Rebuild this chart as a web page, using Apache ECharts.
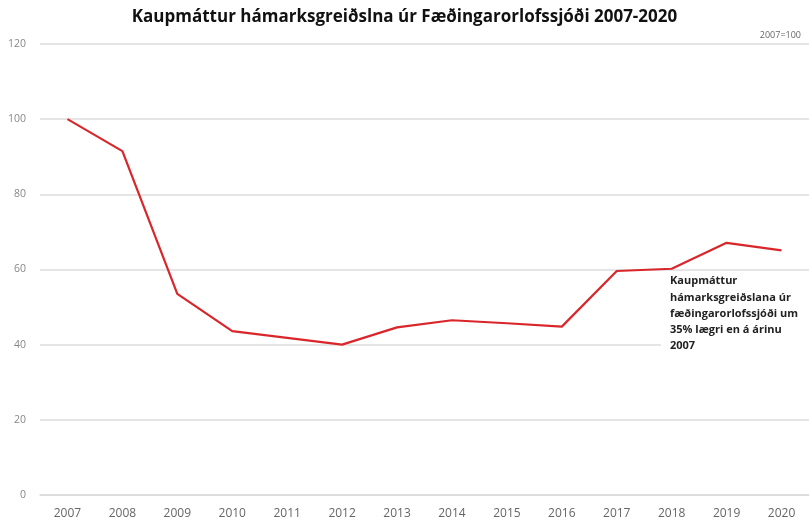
<!DOCTYPE html>
<html><head><meta charset="utf-8">
<script src="https://cdn.jsdelivr.net/npm/echarts@6/dist/echarts.min.js"></script>
<style>html,body{margin:0;padding:0;background:#fff}#c{width:809px;height:522px}</style>
</head><body><div id="c"></div>
<script>
const years = ['2007','2008','2009','2010','2011','2012','2013','2014','2015','2016','2017','2018','2019','2020'];
const values = [100, 91.5, 53.5, 43.6, 41.8, 40.0, 44.6, 46.5, 45.7, 44.8, 59.6, 60.2, 67.1, 65.1];
const yTicks = [0, 20, 40, 60, 80, 100, 120];
const titleText = 'Kaupmáttur hámarksgreiðslna úr Fæðingarorlofssjóði 2007-2020';
const noteText = 'Kaupmáttur\nhámarksgreiðslana úr\nfæðingarorlofssjóði um\n35% lægri en á árinu\n2007';
const baseText = '2007=100';

const chart = echarts.init(document.getElementById('c'), null, {renderer:'canvas'});
chart.setOption({
  animation:false,
  backgroundColor:'#fff',
  title:{text:titleText,left:'center',top:4,textStyle:{fontFamily:'Open Sans',fontWeight:'bold',fontSize:17,color:'#111'}},
  grid:{left:40,top:44,width:770,height:451,containLabel:false},
  xAxis:{type:'category',data:years,boundaryGap:true,
    axisLine:{show:true,lineStyle:{color:'#d9d9d9',width:1.5}},
    axisTick:{show:false},
    axisLabel:{color:'#666',fontFamily:'Open Sans',fontSize:12,margin:13}},
  yAxis:{type:'value',min:yTicks[0],max:yTicks[yTicks.length-1],interval:20,
    axisLine:{show:false},axisTick:{show:false},
    splitLine:{lineStyle:{color:'#dcdcdc',width:1.5}},
    axisLabel:{color:'#888',fontFamily:'Open Sans',fontSize:10.5,margin:14}},
  graphic:[
    {type:'text',right:8,top:31,style:{text:baseText,fill:'#666',font:'9px "Open Sans"'}},
    {type:'rect',left:661,top:273,shape:{width:148,height:86},style:{fill:'#fff'},z:1},
    {type:'text',left:670,top:273,z:2,style:{text:noteText,fill:'#222',font:'bold 11px "Open Sans"',lineHeight:16.3}}
  ],
  series:[{type:'line',data:values,symbol:'none',z:3,
    lineStyle:{color:'#d9262b',width:2.2}}]
});
</script></body></html>
